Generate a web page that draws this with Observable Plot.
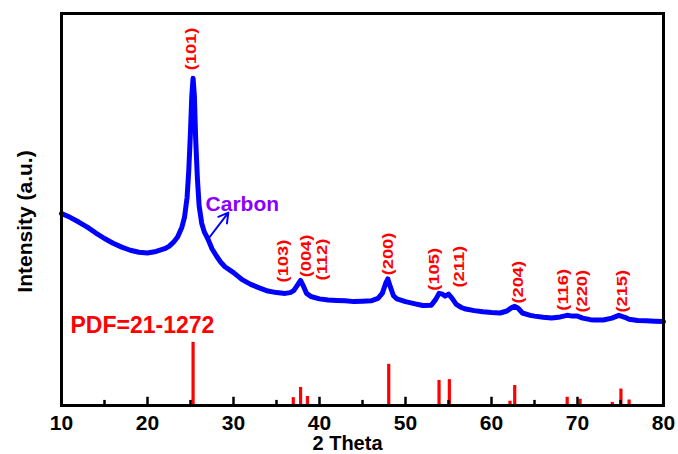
<!DOCTYPE html>
<html>
<head>
<meta charset="utf-8">
<script src="https://cdn.jsdelivr.net/npm/d3@7"></script>
<script src="https://cdn.jsdelivr.net/npm/@observablehq/plot@0.6"></script>
<style>
  html, body { margin: 0; padding: 0; background: #fff; }
  #chart svg { display: block; }
</style>
</head>
<body>
<div id="chart"></div>
<script>
// XRD pattern (blue curve)
const theta = [10,11,12,13,14,15,16,17,18,19,20,21,22,22.5,23,23.5,24,24.3,24.6,24.8,25.0,25.15,25.3,25.45,25.6,25.8,26.0,26.3,26.6,27,27.5,28,28.5,29,30,31,32,33,34,35,36,36.6,37,37.4,37.8,38.1,38.5,39,40,41,42,43,44,45,46,46.8,47.3,47.7,47.95,48.2,48.6,49,50,51,52,53,53.5,53.9,54.3,54.6,55.0,55.4,55.9,56.5,57,58,59,60,61,61.8,62.3,62.7,63.1,63.6,64.5,65,66,67,68,68.8,69.4,70.0,70.6,71.5,72,73,74,74.8,75.5,76,77,78,79,80];
const intensity = [49.0,48.0,46.8,45.5,44.0,42.6,41.4,40.4,39.6,39.1,38.9,39.3,40.0,40.6,41.6,43.0,45.5,48,53,60,70,79,83.5,79,68,58,51,46.5,44.3,42.6,40,38.2,36.6,35.4,33.9,32.1,30.9,30.0,29.2,28.8,28.6,28.8,29.3,30.6,31.9,30.6,28.6,27.8,27.2,26.9,26.8,26.7,26.5,26.6,26.7,27.3,28.6,31.2,32.3,30.5,28,27.2,26.5,26.0,25.5,25.6,27,28.6,28.4,27.9,28.4,27.4,25.8,25,24.6,24.2,23.9,23.7,23.6,24.1,24.9,25.3,24.8,23.6,23.0,22.8,22.5,22.3,22.6,23.0,22.8,22.8,22.3,21.9,21.8,21.8,22.3,23.0,22.5,22.0,21.7,21.6,21.5,21.4];

// Reference pattern PDF 21-1272 (red sticks)
const pdfTheta = [25.3,36.95,37.8,38.6,48.05,53.9,55.1,62.15,62.7,68.8,70.3,74.05,75.05,76.0];
const pdfHeight = [16.1,2.0,4.6,2.3,10.5,6.4,6.6,1.1,5.1,2.1,1.6,0.8,4.2,1.4];

// Peak index labels
const peakLabels = ["(101)","(103)","(004)","(112)","(200)","(105)","(211)","(204)","(116)","(220)","(215)"];
const peakLabelX = [25.1,35.8,38.4,40.3,48.0,53.3,56.2,63.1,68.3,70.6,75.2];
const peakLabelY = [85.5,31.4,32.7,31.9,33.2,29.3,30.1,26.0,24.2,23.7,23.7];

// Axis ticks
const majorTicks = [10,20,30,40,50,60,70,80];
const minorTicks = [15,25,35,45,55,65,75];

const xrd = theta.map((t, i) => ({t, v: intensity[i]}));
const pdf = pdfTheta.map((t, i) => ({t, h: pdfHeight[i]}));
const peaks = peakLabels.map((s, i) => ({s, x: peakLabelX[i], y: peakLabelY[i]}));

const BLUE = "#0000ff", RED = "#ff0000", PURPLE = "#8a00ff";
const FONT = "'Liberation Sans', Arial, sans-serif";

const plot = Plot.plot({
  width: 678,
  height: 454,
  marginLeft: 61,
  marginRight: 15,
  marginTop: 13,
  marginBottom: 49,
  style: {fontFamily: FONT, background: "#fff"},
  x: {domain: [10, 80], axis: null},
  y: {domain: [0, 100], axis: null},
  marks: [
    Plot.ruleX(pdf, {x: "t", y1: 0, y2: "h", stroke: RED, strokeWidth: 3.2}),
    Plot.line(xrd, {x: "t", y: "v", stroke: BLUE, strokeWidth: 5, strokeLinejoin: "round", curve: "linear"}),
    Plot.arrow([0], {x1: 27.1, y1: 42.6, x2: 29.4, y2: 49.2, stroke: BLUE, strokeWidth: 2, headLength: 9}),
    Plot.text(["Carbon"], {x: 26.75, y: 49.7, text: d => d, textAnchor: "start", lineAnchor: "bottom", fill: PURPLE, fontSize: 21, fontWeight: "bold"}),
    Plot.text(peaks, {x: "x", y: "y", text: "s", rotate: -90, textAnchor: "start", lineAnchor: "middle", fill: RED, fontSize: 15, fontWeight: "bold"}),
    Plot.text(["PDF=21-1272"], {x: 11.05, y: 18.6, text: d => d, textAnchor: "start", lineAnchor: "bottom", fill: RED, fontSize: 23, fontWeight: "bold"}),
    Plot.ruleX(majorTicks, {x: d => d, y1: 0, y2: 2.1, stroke: "black", strokeWidth: 2.5}),
    Plot.ruleX(minorTicks, {x: d => d, y1: 0, y2: 1.3, stroke: "black", strokeWidth: 2.5}),
    Plot.frame({stroke: "black", strokeWidth: 3}),
    Plot.text(majorTicks, {x: d => d, frameAnchor: "bottom", lineAnchor: "middle", textAnchor: "middle", dy: 18, text: d => String(d), fontSize: 21, fontWeight: "bold", fill: "black"}),
    Plot.text(["2 Theta"], {frameAnchor: "bottom", lineAnchor: "middle", textAnchor: "middle", dx: -15, dy: 38, text: d => d, fontSize: 20, fontWeight: "bold", fill: "black"}),
    Plot.text(["Intensity (a.u.)"], {frameAnchor: "left", textAnchor: "middle", lineAnchor: "middle", dx: -36, dy: 12, rotate: -90, text: d => d, fontSize: 21, fontWeight: "bold", fill: "black"})
  ]
});

d3.select(plot).selectAll("text")
  .filter(function() { return peakLabels.includes(this.textContent); })
  .attr("transform", function() { return (this.getAttribute("transform") || "") + " scale(1.22,1)"; });

document.getElementById("chart").appendChild(plot);
</script>
</body>
</html>
